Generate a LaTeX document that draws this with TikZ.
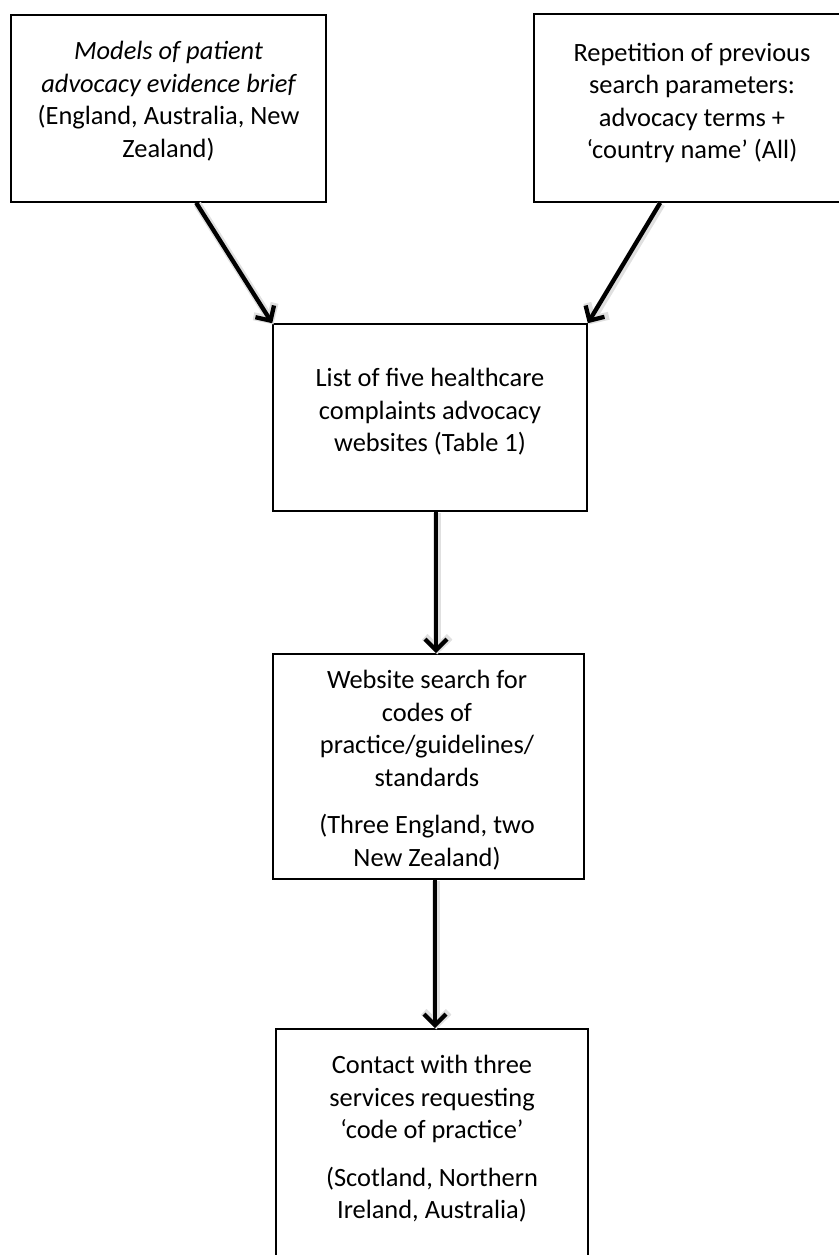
\documentclass[tikz,border=0pt]{standalone}
\usepackage{fontspec}
\setmainfont{Carlito}
\usetikzlibrary{arrows.meta,calc}
\begin{document}
\begin{tikzpicture}[x=1pt,y=-1pt,
  boxstyle/.style={draw=black, line width=1.6pt, fill=white, inner sep=0pt},
  txt/.style={align=center, inner sep=0pt, font=\fontsize{26.4}{32.5}\selectfont},
  flow/.style={line width=4.3pt, black,
    -{Straight Barb[length=11pt,width=22pt]},
    preaction={draw=black!12, line width=8pt, transform canvas={shift={(1.2pt,-1.2pt)}}, -{Straight Barb[length=12pt,width=25pt]}}}
]
\useasboundingbox (0,0) rectangle (838,1255);
% boxes
\node[boxstyle, minimum width=315pt, minimum height=187pt] (b1) at (168.5,108.5) {};
\node[boxstyle, minimum width=330pt, minimum height=188pt] (b2) at (699,108) {};
\node[boxstyle, minimum width=314pt, minimum height=187pt] (b3) at (430,417.5) {};
\node[boxstyle, minimum width=311pt, minimum height=225pt] (b4) at (428.5,766.5) {};
\node[boxstyle, minimum width=312pt, minimum height=240pt] (b5) at (432,1149) {};
% texts
\node[txt] (t1) at (168.5,101) {\itshape Models of patient\\ \itshape advocacy evidence brief\\ (England, Australia, New\\ Zealand)};
\node[txt] (t2) at (692,103) {Repetition of previous\\ search parameters:\\ advocacy terms +\\ ‘country name’ (All)};
\node[txt] (t3) at (430,412) {List of five healthcare\\ complaints advocacy\\ websites (Table 1)};
\node[txt] (t4) at (427,770) {Website search for\\ codes of\\ practice/guidelines/\\ standards\\[15pt] (Three England, two\\ New Zealand)};
\node[txt] (t5) at (432,1139) {Contact with three\\ services requesting\\ ‘code of practice’\\[15pt] (Scotland, Northern\\ Ireland, Australia)};
% connectors
\coordinate (s1) at ($(b1.south west)+(186,0)$);
\coordinate (s2) at ($(b2.south west)+(127,0)$);
\draw[flow] (s1) -- (b3.north west);
\draw[flow] (s2) -- (b3.north east);
\draw[flow] ([xshift=6pt]b3.south) -- ([xshift=7.5pt]b4.north);
\draw[flow] ([xshift=6.5pt]b4.south) -- ([xshift=3pt]b5.north);
\end{tikzpicture}
\end{document}
